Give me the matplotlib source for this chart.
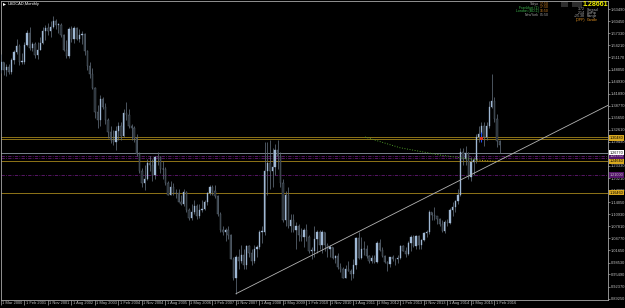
import numpy as np
import matplotlib.pyplot as plt
import matplotlib.transforms as mtransforms

# USDCAD monthly candles, May 2000 .. Apr 2016
first_open = 1.4790
highs = [
    1.5200, 1.5000, 1.4950, 1.4950, 1.5100, 1.5300, 1.5600, 1.5450,
    1.5240, 1.5500, 1.5830, 1.5900, 1.5500, 1.5500, 1.5500, 1.5650, 1.5900, 1.5950, 1.6000, 1.6050,
    1.6190, 1.6100, 1.6000, 1.5990, 1.5720, 1.5550, 1.5900, 1.5930, 1.5930, 1.5900, 1.5850, 1.5800,
    1.5750, 1.5300, 1.5000, 1.4850, 1.4350, 1.3900, 1.4150, 1.4100, 1.3950, 1.3550, 1.3350, 1.3250,
    1.3350, 1.3450, 1.3450, 1.3800, 1.3970, 1.3800, 1.3400, 1.3350, 1.3150, 1.2700, 1.2280, 1.2350,
    1.2500, 1.2600, 1.2500, 1.2600, 1.2700, 1.2600, 1.2450, 1.2300, 1.1950, 1.1950, 1.1900, 1.1730,
    1.1740, 1.1600, 1.1730, 1.1700, 1.1250, 1.1350, 1.1450, 1.1350, 1.1350, 1.1450, 1.1450, 1.1670,
    1.1850, 1.1850, 1.1850, 1.1600, 1.1150, 1.0800, 1.0750, 1.0800, 1.0600, 1.0000, 1.0050, 1.0200,
    1.0300, 1.0200, 1.0300, 1.0300, 1.0200, 1.0300, 1.0300, 1.0700, 1.0800, 1.2950, 1.2950, 1.3000,
    1.2800, 1.2900, 1.3000, 1.2700, 1.2000, 1.1700, 1.1800, 1.1100, 1.1100, 1.0900, 1.0850, 1.0750,
    1.0750, 1.0850, 1.0550, 1.0250, 1.0800, 1.0700, 1.0700, 1.0700, 1.0650, 1.0350, 1.0300, 1.0250,
    1.0050, 1.0100, 0.9850, 0.9750, 0.9800, 0.9900, 0.9700, 0.9950, 1.0500, 1.0650, 1.0500, 1.0400,
    1.0300, 1.0050, 1.0050, 1.0050, 1.0400, 1.0450, 1.0250, 1.0050, 0.9900, 1.0000, 1.0050, 0.9950,
    1.0050, 1.0300, 1.0300, 1.0250, 1.0400, 1.0550, 1.0550, 1.0550, 1.0550, 1.0450, 1.0650, 1.0700,
    1.1200, 1.1150, 1.1280, 1.1050, 1.1000, 1.0950, 1.0950, 1.0980, 1.1250, 1.1400, 1.1450, 1.1750,
    1.2800, 1.2800, 1.2850, 1.2700, 1.2550, 1.2550, 1.3150, 1.3350, 1.3450, 1.3450, 1.3450, 1.4000,
    1.4690, 1.4100, 1.3660, 1.2990,
]
lows = [
    1.4720, 1.4660, 1.4650, 1.4700, 1.4700, 1.4950, 1.5200, 1.4930,
    1.4940, 1.4950, 1.5400, 1.5300, 1.5280, 1.5110, 1.5080, 1.5300, 1.5450, 1.5550, 1.5700, 1.5650,
    1.5880, 1.5850, 1.5750, 1.5630, 1.5280, 1.5100, 1.5100, 1.5500, 1.5480, 1.5560, 1.5500, 1.5450,
    1.5180, 1.4800, 1.4580, 1.4300, 1.3550, 1.3300, 1.3350, 1.3780, 1.3420, 1.3050, 1.2930, 1.2880,
    1.2750, 1.3000, 1.3000, 1.3080, 1.3500, 1.3300, 1.3000, 1.2950, 1.2600, 1.2150, 1.1780, 1.1720,
    1.1970, 1.2200, 1.1950, 1.2000, 1.2350, 1.2150, 1.2000, 1.1850, 1.1580, 1.1600, 1.1580, 1.1500,
    1.1400, 1.1320, 1.1300, 1.1150, 1.0950, 1.0950, 1.1100, 1.0980, 1.1000, 1.1150, 1.1200, 1.1330,
    1.1600, 1.1580, 1.1500, 1.1050, 1.0650, 1.0550, 1.0400, 1.0450, 0.9950, 0.9400, 0.9056, 0.9700,
    0.9850, 0.9700, 0.9700, 1.0000, 0.9800, 0.9850, 1.0000, 1.0200, 1.0350, 1.0550, 1.1600, 1.1750,
    1.1800, 1.2100, 1.2250, 1.1800, 1.0900, 1.0800, 1.0750, 1.0650, 1.0650, 1.0200, 1.0400, 1.0400,
    1.0250, 1.0400, 1.0100, 0.9950, 1.0000, 1.0100, 1.0200, 1.0100, 1.0150, 1.0000, 1.0000, 0.9950,
    0.9850, 0.9700, 0.9620, 0.9450, 0.9450, 0.9650, 0.9400, 0.9450, 0.9700, 0.9950, 0.9950, 1.0050,
    0.9980, 0.9850, 0.9850, 0.9850, 0.9850, 1.0150, 1.0000, 0.9850, 0.9650, 0.9750, 0.9900, 0.9800,
    0.9850, 0.9950, 1.0150, 1.0000, 1.0050, 1.0150, 1.0250, 1.0200, 1.0200, 1.0200, 1.0400, 1.0500,
    1.0600, 1.0950, 1.0950, 1.0850, 1.0800, 1.0650, 1.0620, 1.0800, 1.0850, 1.1050, 1.1150, 1.1350,
    1.1550, 1.2350, 1.2350, 1.2000, 1.1950, 1.2100, 1.2400, 1.2950, 1.3000, 1.2850, 1.3000, 1.3300,
    1.3830, 1.3450, 1.2830, 1.2660,
]
closes = [
    1.4990, 1.4780, 1.4870, 1.4730, 1.5040, 1.5250, 1.5400, 1.5000,
    1.5000, 1.5430, 1.5750, 1.5360, 1.5450, 1.5180, 1.5310, 1.5480, 1.5800, 1.5880, 1.5790, 1.5900,
    1.6060, 1.5950, 1.5950, 1.5680, 1.5300, 1.5150, 1.5850, 1.5580, 1.5860, 1.5600, 1.5680, 1.5720,
    1.5280, 1.4900, 1.4700, 1.4340, 1.3720, 1.3500, 1.4050, 1.3850, 1.3500, 1.3200, 1.3000, 1.2950,
    1.3240, 1.3360, 1.3100, 1.3700, 1.3650, 1.3350, 1.3300, 1.3050, 1.2650, 1.2200, 1.1900, 1.2000,
    1.2400, 1.2350, 1.2100, 1.2550, 1.2550, 1.2250, 1.2250, 1.1900, 1.1600, 1.1800, 1.1650, 1.1630,
    1.1400, 1.1350, 1.1670, 1.1200, 1.1000, 1.1150, 1.1300, 1.1050, 1.1200, 1.1220, 1.1420, 1.1650,
    1.1780, 1.1700, 1.1550, 1.1100, 1.0700, 1.0650, 1.0680, 1.0550, 0.9950, 0.9450, 1.0000, 0.9900,
    1.0050, 0.9800, 1.0280, 1.0100, 0.9900, 1.0200, 1.0250, 1.0650, 1.0650, 1.2200, 1.2400, 1.2200,
    1.2300, 1.2750, 1.2600, 1.1900, 1.0950, 1.1600, 1.0800, 1.0950, 1.0700, 1.0800, 1.0550, 1.0500,
    1.0700, 1.0500, 1.0150, 1.0150, 1.0450, 1.0650, 1.0300, 1.0650, 1.0300, 1.0200, 1.0250, 0.9970,
    1.0020, 0.9750, 0.9700, 0.9470, 0.9700, 0.9650, 0.9550, 0.9800, 1.0480, 0.9970, 1.0200, 1.0200,
    1.0030, 0.9900, 0.9980, 0.9880, 1.0350, 1.0180, 1.0030, 0.9860, 0.9830, 0.9990, 0.9940, 0.9950,
    0.9980, 1.0280, 1.0160, 1.0080, 1.0360, 1.0510, 1.0270, 1.0530, 1.0300, 1.0430, 1.0610, 1.0630,
    1.1150, 1.1070, 1.1050, 1.0960, 1.0840, 1.0670, 1.0900, 1.0870, 1.1200, 1.1270, 1.1430, 1.1600,
    1.2700, 1.2500, 1.2670, 1.2060, 1.2430, 1.2490, 1.3080, 1.3150, 1.3350, 1.3080, 1.3360, 1.3840,
    1.4005, 1.3535, 1.2970, 1.2866,
]
first_month = 2  # month index of first candle (Mar 2000 = 0)

time_labels = ["1 Mar 2000", "1 Feb 2001", "1 Nov 2001", "1 Aug 2002", "1 May 2003",
               "1 Feb 2004", "1 Nov 2004", "1 Aug 2005", "1 May 2006", "1 Feb 2007",
               "1 Nov 2007", "1 Aug 2008", "1 May 2009", "1 Feb 2010", "1 Nov 2010",
               "1 Aug 2011", "1 May 2012", "1 Feb 2013", "1 Nov 2013", "1 Aug 2014",
               "1 May 2015", "1 Feb 2016"]
time_months = [0, 11, 20, 29, 38, 47, 56, 65, 74, 83, 92, 101, 110, 119, 128,
               137, 146, 155, 164, 173, 182, 191]

# right-hand price scale (1.26370 sits under the level boxes)
price_ticks = [1.63490, 1.60450, 1.57330, 1.54210, 1.51170, 1.48050, 1.44930, 1.41890,
               1.38770, 1.35650, 1.32610, 1.29490, 1.23330, 1.20210, 1.17090,
               1.14050, 1.10930, 1.07810, 1.04770, 1.01650, 0.98530, 0.95490, 0.92370,
               0.89250]

# horizontal levels
gold_levels = [1.3080, 1.3016, 1.2464, 1.1646]
purple_levels = [1.2600, 1.2549, 1.2100]
grey_level = 1.2677
# levels that carry a price box on the axis
gold_boxes = [1.3048, 1.2464, 1.1646]
purple_boxes = [1.2575, 1.2100]

# trend line from the 2007 low
trend_months = [92, 234.5]
trend_prices = [0.9056, 1.3887]

# green dotted average
ma_months = [141.4, 154.8, 170.1, 184.3, 193.1]
ma_prices = [1.3075, 1.2800, 1.2613, 1.2485, 1.2441]

bid = "1.28661"
sessions = [("Tokyo", "17:50", "#a0a0a0"), ("Frankfurt (1)", "17:50", "#3cb44b"),
            ("London (BD-1)", "16:50", "#3cb44b"), ("NewYork", "05:50", "#a0a0a0")]
info_vals = ["3.72", "2.14", "+25.38", "(OPP)"]
info_names = ["Spread", "LotPip", "Range", "Candle"]

W, H = 625, 308
plt.rcParams["font.family"] = ["Liberation Sans Narrow", "Liberation Sans", "DejaVu Sans"]

fig = plt.figure(figsize=(W / 100, H / 100), dpi=100, facecolor="black")
ax = fig.add_axes([1 / W, 8 / H, 607 / W, 299 / H], facecolor="black")

# candles
o = np.array([first_open] + closes[:-1])
c = np.array(closes)
hi = np.array(highs)
lo = np.array(lows)
months = np.arange(len(c)) + first_month
bull = c >= o

ax.vlines(months, lo, hi, color="#5f6b78", lw=0.55, zorder=3)
body = np.maximum(np.abs(c - o), 0.0015)
ax.bar(months[bull], body[bull], bottom=np.minimum(o, c)[bull], width=0.5,
       color="#9fb8d4", edgecolor="#9fb8d4", lw=0.25, zorder=4)
ax.bar(months[~bull], body[~bull], bottom=np.minimum(o, c)[~bull], width=0.5,
       color="#262c33", edgecolor="#5f6b78", lw=0.3, zorder=4)

# levels
for lv in gold_levels:
    ax.axhline(lv, color="#8f7418", lw=0.7, zorder=2)
for lv in purple_levels:
    ax.axhline(lv, color="#641a74", lw=0.6, ls=(0, (4, 1.5, 1, 1.5)), zorder=2)
ax.axhline(grey_level, color="#8c98a4", lw=0.6, zorder=2)

ax.plot(trend_months, trend_prices, color="#b4b4b4", lw=0.6, zorder=5)
ax.plot(ma_months[:-1], ma_prices[:-1], color="#4e9a28", lw=0.7, ls=":", zorder=5)
ax.plot(ma_months[-2:], ma_prices[-2:], color="#c8b020", lw=0.7, ls=":", zorder=5)

# small blue/red object near Sep 2015
ax.vlines(186, 1.295, 1.321, color="#2050ff", lw=0.7, zorder=6)
ax.plot([186], [1.305], marker="s", ms=1.2, color="#e03020", zorder=7)

ax.set_xlim(2.0, 234.5)
ax.set_ylim(0.8895, 1.6562)

for s in ax.spines.values():
    s.set_color("#a8a8a8")
    s.set_linewidth(0.6)

# price axis on the right
ax.yaxis.tick_right()
ax.set_yticks(price_ticks)
ax.set_yticklabels([f"{v:.5f}" for v in price_ticks])
ax.tick_params(axis="y", colors="#a8a8a8", labelcolor="#c0c0c0", labelsize=2.9,
               length=1.5, width=0.5, pad=0.8)

# time axis
x0 = ax.get_xlim()[0]
ax.set_xticks([max(m, x0) for m in time_months])
ax.set_xticklabels(time_labels)
ax.tick_params(axis="x", colors="#a8a8a8", labelcolor="#c0c0c0", labelsize=2.9,
               length=3.5, width=0.5, pad=-2.6)
shift = mtransforms.ScaledTranslation(1.4 / 100, 0, fig.dpi_scale_trans)
for lab in ax.get_xticklabels():
    lab.set_ha("left")
    lab.set_transform(lab.get_transform() + shift)

# level price boxes on the axis
ytr = mtransforms.blended_transform_factory(ax.transAxes, ax.transData)
boxes = [(lv, "#d8a820", "black") for lv in gold_boxes] + \
        [(lv, "#54146a", "#c8c8c8") for lv in purple_boxes] + \
        [(grey_level, "white", "black")]
for lv, fc, tc in boxes:
    ax.text(1.003, lv, f"{lv:.5f}", transform=ytr, fontsize=2.7, color=tc,
            va="center", ha="left", clip_on=False, zorder=10,
            bbox=dict(boxstyle="square,pad=0.2", fc=fc, ec="none"))


def px(x, y):
    return x / W, 1 - y / H


# title top-left
fig.patches.append(plt.Polygon([px(3, 3), px(6, 4.5), px(3, 6)], closed=True,
                               transform=fig.transFigure, fc="white", ec="none"))
fig.text(*px(8, 4.5), "USDCAD,Monthly", color="white", fontsize=2.9, va="center")

# top-right info
for xa, xb in [(561, 568), (572, 582)]:
    fig.patches.append(plt.Rectangle(px(xa, 6.5), (xb - xa) / W, 4.5 / H,
                                     transform=fig.transFigure, fc="#2e2e2e", ec="none"))
fig.text(*px(583, 5), bid, color="#f0f000", fontsize=5.0, fontweight="bold",
         va="center", ha="left", family=["Liberation Sans", "DejaVu Sans"])
for i, (v, n) in enumerate(zip(info_vals, info_names)):
    y = 9.5 + i * 3.4
    col = "#e09020" if i == 3 else "#b0b0b0"
    fig.text(*px(585, y), v, color=col, fontsize=2.5, va="center", ha="right")
    fig.text(*px(587, y), n, color=col, fontsize=2.5, va="center", ha="left")
for i, (name, t, col) in enumerate(sessions):
    y = 4 + i * 3.5
    fig.text(*px(538.5, y), name, color=col, fontsize=2.5, va="center", ha="right")
    fig.text(*px(540, y), t, color="#d08020" if i < 3 else "#a0a0a0",
             fontsize=2.5, va="center", ha="left")

fig.savefig("out.png", dpi=100, facecolor="black")
